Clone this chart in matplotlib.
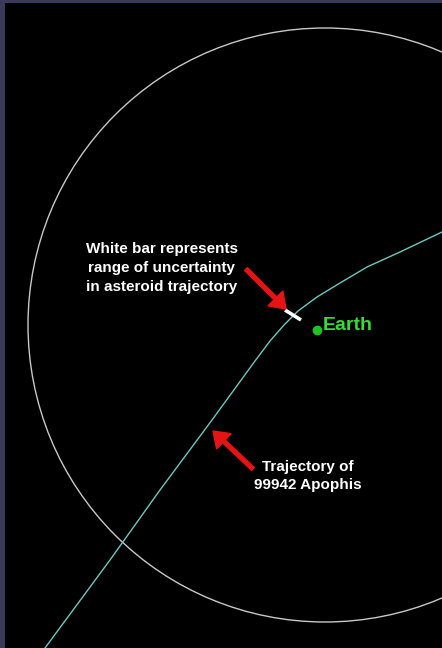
import matplotlib.pyplot as plt
from matplotlib.patches import Circle, Rectangle

# image is drawn in pixel coordinates (y down)
W, H = 442, 648

# orbit circle
circle_center = (325, 325)
circle_radius = 297

# trajectory of 99942 Apophis
traj_x = [45, 110, 160, 212, 255, 270, 284, 298, 317, 340, 367, 400, 442]
traj_y = [648, 560, 490, 420, 361, 341, 325, 311, 297, 283, 267, 252, 232]

# uncertainty bar
bar_x = [285, 301]
bar_y = [310, 320]

# Earth
earth_xy = (317, 330)

# arrows (tail -> tip)
arrow1 = ((246, 269), (286, 309))
arrow2 = ((253, 469), (213, 431))

label1 = "White bar represents\nrange of uncertainty\nin asteroid trajectory"
label2 = "Trajectory of\n99942 Apophis"

fig = plt.figure(figsize=(W / 100, H / 100), dpi=100)
fig.patch.set_facecolor('#3c3a5c')
ax = fig.add_axes([0, 0, 1, 1])
ax.set_xlim(0, W)
ax.set_ylim(H, 0)
ax.set_aspect('equal')
ax.axis('off')

ax.add_patch(Rectangle((5, 3), W - 5, H - 3, facecolor='black', edgecolor='none', zorder=0))
ax.add_patch(Circle(circle_center, circle_radius, fill=False, edgecolor='#c8c8c8', lw=1.0, zorder=1))

ax.plot(traj_x, traj_y, color='#6cc8c0', lw=1.0, zorder=2)
ax.plot(bar_x, bar_y, color='white', lw=2.6, solid_capstyle='butt', zorder=3)

ax.plot(*earth_xy, 'o', color='#22c022', ms=6, zorder=3)
ax.text(earth_xy[0] + 6, earth_xy[1] - 4, 'Earth', color='#33dd33', fontsize=14,
        fontweight='semibold', family='Liberation Sans', ha='left', va='center')

for (tx, ty), (hx, hy) in (arrow1, arrow2):
    ax.arrow(tx, ty, hx - tx, hy - ty, width=4, head_width=21, head_length=15,
             length_includes_head=True, color='#e41414', zorder=4)

ax.text(162, 268, label1, color='white', fontsize=11, fontweight='bold',
        family='Liberation Sans', ha='center', va='center', linespacing=1.45)
ax.text(308, 476, label2, color='white', fontsize=11, fontweight='bold',
        family='Liberation Sans', ha='center', va='center', linespacing=1.45)

fig.savefig('out.png', dpi=100, facecolor=fig.get_facecolor())
